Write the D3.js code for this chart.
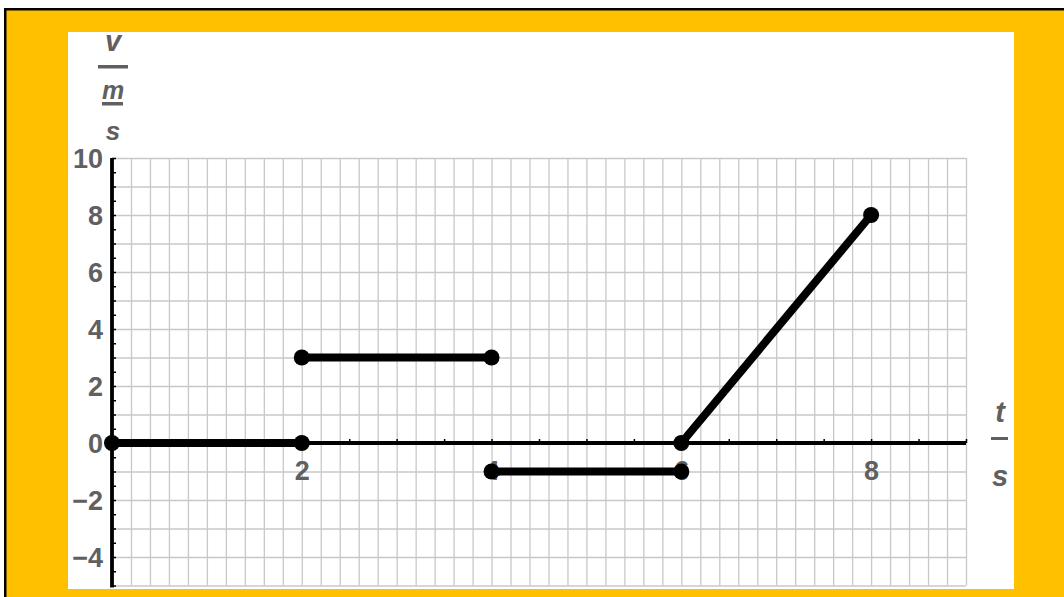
<!DOCTYPE html>
<html><head><meta charset="utf-8">
<script src="https://cdn.jsdelivr.net/npm/d3@7"></script>
<style>body{margin:0;background:#fff;}svg{display:block;}</style>
</head><body>
<script>
// Data
const segT0 = [0, 2, 4, 6];
const segT1 = [2, 4, 6, 8];
const segV0 = [0, 3, -1, 0];
const segV1 = [0, 3, -1, 8];
const xTickValues = [2, 4, 6, 8];
const yTickValues = [-4, -2, 0, 2, 4, 6, 8, 10];
const xDomain = [0, 9];
const yDomain = [-5, 10];

const W = 1064, H = 597;
const svg = d3.select("body").append("svg").attr("width", W).attr("height", H);

// background frame
svg.append("rect").attr("x", 0).attr("y", 0).attr("width", W).attr("height", H).attr("fill", "#fff");
svg.append("rect").attr("x", 4).attr("y", 8).attr("width", W - 4).attr("height", H - 8).attr("fill", "#000");
svg.append("rect").attr("x", 6.5).attr("y", 10.5).attr("width", W - 6.5).attr("height", H - 10.5).attr("fill", "#FFC000");
svg.append("rect").attr("x", 68).attr("y", 32).attr("width", 1014 - 68).attr("height", 589 - 32).attr("fill", "#fff");

const x = d3.scaleLinear().domain(xDomain).range([112, 966]);
const y = d3.scaleLinear().domain(yDomain).range([585.5, 158]);

// grid
const g = svg.append("g");
g.append("g").attr("transform", `translate(0,${y(yDomain[0])})`)
  .call(d3.axisBottom(x).tickValues(d3.range(0, 45.5).map(i => i * 0.2)).tickSize(-(y(yDomain[0]) - y(yDomain[1]))).tickFormat(""))
  .call(a => a.select(".domain").remove())
  .call(a => a.selectAll("line").attr("stroke", "#c8c8c8").attr("stroke-width", 1.3));
g.append("g").attr("transform", `translate(${x(0)},0)`)
  .call(d3.axisRight(y).tickValues(d3.range(-5, 10.5, 1)).tickSize(x(9) - x(0)).tickFormat(""))
  .call(a => a.select(".domain").remove())
  .call(a => a.selectAll("line").attr("stroke", "#c8c8c8").attr("stroke-width", 1.3));

// axes lines
svg.append("line").attr("x1", x(0)).attr("x2", x(9)).attr("y1", y(0)).attr("y2", y(0)).attr("stroke", "#000").attr("stroke-width", 3.8);
svg.append("line").attr("x1", x(0)).attr("x2", x(0)).attr("y1", y(10)).attr("y2", y(-5) + 2).attr("stroke", "#000").attr("stroke-width", 3.8);

// minor ticks
svg.append("g").attr("transform", `translate(${x(0)},0)`)
  .call(d3.axisRight(y).tickValues(d3.range(-10, 21).map(i => i * 0.5)).tickSize(4).tickFormat(""))
  .call(a => a.select(".domain").remove())
  .call(a => a.selectAll("line").attr("stroke", "#000").attr("stroke-width", 1.5));
svg.append("g").attr("transform", `translate(0,${y(0)})`)
  .call(d3.axisTop(x).tickValues(d3.range(1, 19).map(i => i * 0.5)).tickSize(4).tickFormat(""))
  .call(a => a.select(".domain").remove())
  .call(a => a.selectAll("line").attr("stroke", "#000").attr("stroke-width", 1.5));

const labelFont = "'Liberation Sans', Arial, sans-serif";
const grey = "#606060";

// tick labels
svg.append("g").attr("transform", `translate(${x(0) - 9},0)`)
  .call(d3.axisLeft(y).tickValues(yTickValues).tickSize(0).tickPadding(0).tickFormat(d => d < 0 ? "\u2212" + Math.abs(d) : d))
  .call(a => a.select(".domain").remove())
  .call(a => a.selectAll("text").attr("fill", grey).attr("font-family", labelFont).attr("font-weight", "bold").attr("font-size", 27).attr("dy", "0.36em"));
svg.append("g").attr("transform", `translate(0,${y(0) + 18})`)
  .call(d3.axisBottom(x).tickValues(xTickValues).tickSize(0).tickPadding(0).tickFormat(d => d))
  .call(a => a.select(".domain").remove())
  .call(a => a.selectAll("text").attr("fill", grey).attr("font-family", labelFont).attr("font-weight", "bold").attr("font-size", 27).attr("dy", "0.71em"));

// data
const segs = segT0.map((t, i) => ({t0: t, t1: segT1[i], v0: segV0[i], v1: segV1[i]}));
svg.append("g").selectAll("line").data(segs).join("line")
  .attr("x1", d => x(d.t0)).attr("x2", d => x(d.t1))
  .attr("y1", d => y(d.v0)).attr("y2", d => y(d.v1))
  .attr("stroke", "#000").attr("stroke-width", 8).attr("stroke-linecap", "butt");
const pts = segs.flatMap(d => [{t: d.t0, v: d.v0}, {t: d.t1, v: d.v1}]);
svg.append("g").selectAll("circle").data(pts).join("circle")
  .attr("cx", d => x(d.t)).attr("cy", d => y(d.v)).attr("r", 8).attr("fill", "#000");

// axis titles
const tf = {"font-family": labelFont, "font-weight": "bold", "font-style": "italic", "font-size": 29, "fill": grey, "text-anchor": "middle"};
function txt(s, cx, by, fs) {
  const t = svg.append("text").attr("x", cx).attr("y", by).text(s);
  Object.entries(tf).forEach(([k, v]) => t.attr(k, v));
  if (fs) t.attr("font-size", fs);
  return t;
}
txt("v", 113, 51);
svg.append("rect").attr("x", 98).attr("y", 65).attr("width", 30).attr("height", 3.5).attr("fill", grey);
txt("m", 113, 99, 25);
svg.append("rect").attr("x", 102).attr("y", 102).attr("width", 21).attr("height", 3.5).attr("fill", grey);
txt("s", 113, 140, 26);

txt("t", 1000, 422);
svg.append("rect").attr("x", 991).attr("y", 437).attr("width", 17).attr("height", 3).attr("fill", grey);
txt("s", 1000, 486, 29);
</script>
</body></html>
